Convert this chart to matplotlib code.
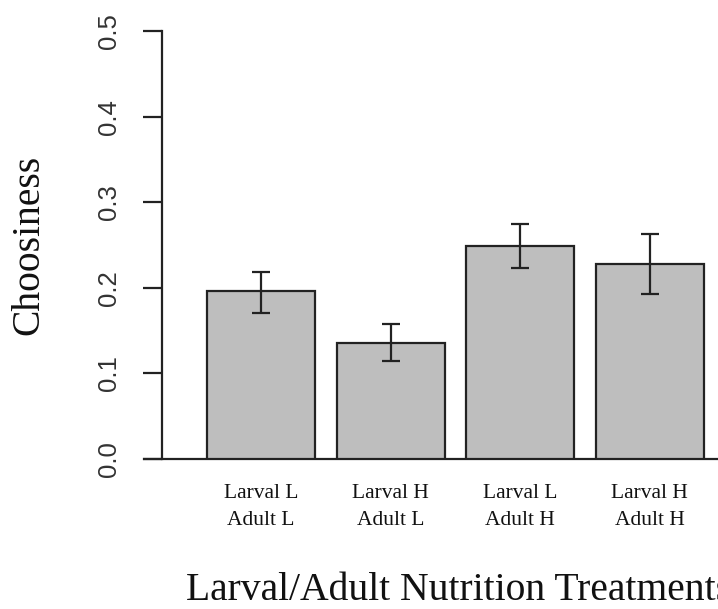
import numpy as np
import matplotlib
matplotlib.use("Agg")
import matplotlib.pyplot as plt

# values
treatments = ["Larval L\nAdult L", "Larval H\nAdult L", "Larval L\nAdult H", "Larval H\nAdult H"]
means = [0.196, 0.135, 0.249, 0.228]
err_hi = [0.219, 0.158, 0.274, 0.263]
err_lo = [0.170, 0.114, 0.223, 0.193]
yticks = [0.0, 0.1, 0.2, 0.3, 0.4, 0.5]

W, H = 718, 609
fig = plt.figure(figsize=(W / 100, H / 100), dpi=100)

# axes: left edge at px 144, y=0 at px 459, y=0.5 at px 31
ax = fig.add_axes([144 / W, (H - 459) / H, (W - 144) / W, 428 / H])
ax.set_ylim(0, 0.5)
ax.set_xlim(-0.383, 4.931)

# R-style barplot positions: width 1, space 0.2
x = 0.7 + 1.2 * np.arange(len(means))
m = np.array(means)
yerr = [m - np.array(err_lo), np.array(err_hi) - m]
ax.bar(x, m, width=1.0, color="#bebebe", edgecolor="#222222", linewidth=1.6, zorder=2)
ax.errorbar(x, m, yerr=yerr, fmt="none", ecolor="#222222", elinewidth=1.6,
            capsize=6.5, capthick=1.6, zorder=3)
ax.axhline(0, color="#222222", lw=1.6, clip_on=False, zorder=1)

for s in ["top", "right", "bottom"]:
    ax.spines[s].set_visible(False)
ax.spines["left"].set_position(("data", -0.217))
ax.spines["left"].set_bounds(0, 0.5)
ax.spines["left"].set_linewidth(1.6)
ax.spines["left"].set_color("#222222")

ax.set_yticks(yticks)
ax.set_yticklabels([f"{v:.1f}" for v in yticks], rotation=90, va="center",
                   family="Liberation Sans", fontsize=18.5, color="#333333")
ax.tick_params(axis="y", length=13.7, width=1.6, color="#222222", pad=16)

ax.set_xticks(x)
ax.set_xticklabels(treatments, family="Liberation Serif", fontsize=15.5,
                   linespacing=1.6, color="#111111")
ax.tick_params(axis="x", length=0, pad=18)

fig.text(29 / W, 1 - 245 / H, "Choosiness", rotation=90, ha="center", va="center",
         family="Liberation Serif", fontsize=28.5, color="#111111")
fig.text(186 / W, 1 - 591 / H, "Larval/Adult Nutrition Treatments", ha="left", va="center",
         family="Liberation Serif", fontsize=28.5, color="#111111")

fig.savefig("out.png", dpi=100)
